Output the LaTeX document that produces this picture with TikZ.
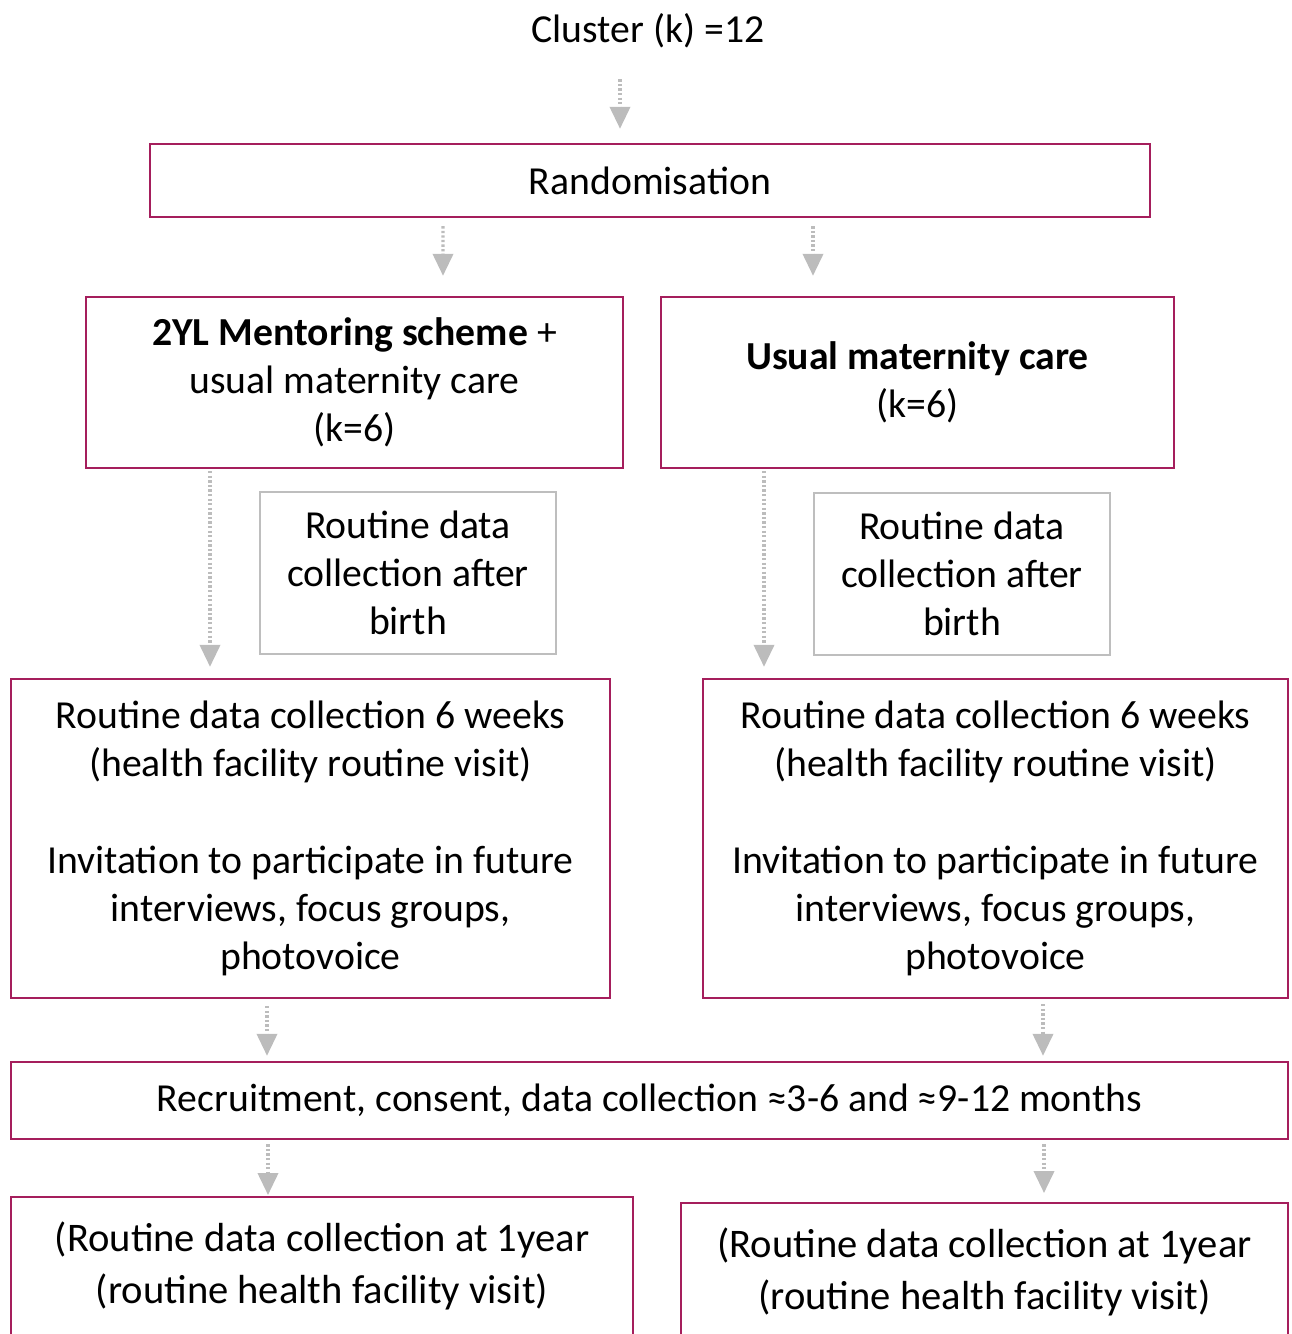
\documentclass[tikz,border=0pt]{standalone}
\usepackage{fontspec}
\setmainfont{Carlito}
\usepackage{tikz}
\usetikzlibrary{arrows.meta,calc}

\definecolor{boxpink}{RGB}{165,30,92}
\definecolor{boxgrey}{RGB}{190,190,190}
\definecolor{arrowgrey}{RGB}{188,188,188}

\tikzset{
    box/.style={draw=boxpink, line width=1.4pt, align=center, inner sep=0pt},
    greybox/.style={draw=boxgrey, line width=1pt, align=center, inner sep=0pt},
    flow/.style={draw=arrowgrey, line width=1.8pt, dash pattern=on 1.3pt off 1.3pt,
        -{Triangle[width=11.5pt,length=12.5pt]}},
    bodytext/.style={font=\fontsize{22.6}{27.4}\selectfont},
    bigtext/.style={font=\fontsize{23.1}{29.6}\selectfont}
}

\begin{document}
\begin{tikzpicture}[x=0.02cm,y=-0.02cm,bodytext]
                    \useasboundingbox (0,0) rectangle (1291,1334);
                    \node (clus) [inner sep=0pt, minimum height=1.2cm] at (648,31) {Cluster (k) =12};
                    \node (rand) [box, minimum width=20cm, minimum height=1.46cm] at (650,180.5) {\raisebox{-1.5pt}{Randomisation}};
                    \node (grpA) [box, minimum width=10.74cm, minimum height=3.42cm] at (354.5,382.5)
                        {\textbf{2YL Mentoring scheme} +\\usual maternity care\\(k=6)};
                    \node (grpB) [box, minimum width=10.26cm, minimum height=3.42cm] at (917.5,382.5)
                        {\textbf{Usual maternity care}\\(k=6)};
                    \node (birthA) [greybox, minimum width=5.92cm, minimum height=3.24cm] at (408,573)
                        {Routine data\\collection after\\birth};
                    \node (birthB) [greybox, minimum width=5.92cm, minimum height=3.24cm] at (962,574)
                        {Routine data\\collection after\\birth};
                    \node (sixA) [box, minimum width=11.98cm, minimum height=6.38cm] at (310.5,838.5)
                        {Routine data collection 6 weeks\\(health facility routine visit)\\[27.4pt]Invitation to participate in future\\interviews, focus groups,\\photovoice};
                    \node (sixB) [box, minimum width=11.7cm, minimum height=6.38cm] at (995.5,838.5)
                        {Routine data collection 6 weeks\\(health facility routine visit)\\[27.4pt]Invitation to participate in future\\interviews, focus groups,\\photovoice};
                    \node (recr) [box, minimum width=25.54cm, minimum height=1.54cm] at (649.5,1100.5)
                        {\raisebox{-2pt}{Recruitment, consent, data collection ≈3-6 and ≈9-12 months}};
                    \node (yearA) [box, anchor=north, minimum width=12.44cm, minimum height=4cm] at (322,1196) {};
                    \node (yearB) [box, anchor=north, minimum width=12.14cm, minimum height=4cm] at (984.5,1202) {};
                    \node (yearAtxt) [bigtext, align=center, inner sep=0pt] at ($(yearA.north)+(0,70)$)
                        {(Routine data collection at 1year\\(routine health facility visit)};
                    \node (yearBtxt) [bigtext, align=center, inner sep=0pt] at ($(yearB.north)+(0,70)$)
                        {(Routine data collection at 1year\\(routine health facility visit)};
                    \draw[flow] ($(clus.south)+(-28,18)$) -- ($(rand.north)+(-30,-14)$);
                    \draw[flow] ($(rand.south)+(-207,8)$) -- ($(grpA.north)+(88.5,-20)$);
                    \draw[flow] ($(rand.south)+(163,8)$) -- ($(grpB.north)+(-104.5,-20)$);
                    \draw[flow] ($(grpA.south)+(-144.5,2)$) -- ($(sixA.north)+(-100.5,-11)$);
                    \draw[flow] ($(grpB.south)+(-153.5,2)$) -- ($(sixB.north)+(-231.5,-11)$);
                    \draw[flow] ($(sixA.south)+(-43.5,7)$) -- ($(recr.north)+(-382.5,-5)$);
                    \draw[flow] ($(sixB.south)+(47.5,5)$) -- ($(recr.north)+(393.5,-5)$);
                    \draw[flow] ($(recr.south)+(-381.5,4)$) -- ($(yearA.north)+(-54,-1)$);
                    \draw[flow] ($(recr.south)+(394.5,4)$) -- ($(yearB.north)+(59.5,-9)$);
                \end{tikzpicture}
\end{document}
